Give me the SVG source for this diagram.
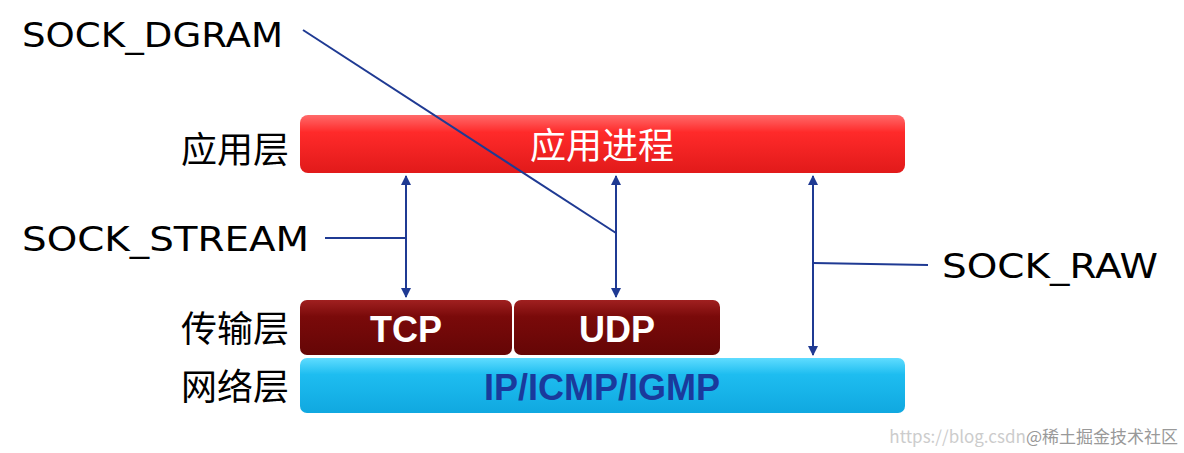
<svg xmlns="http://www.w3.org/2000/svg" width="1184" height="453" viewBox="0 0 1184 453">
<style>
.lbl{font-family:"DejaVu Sans",sans-serif;font-size:34px;fill:#000}
.cn{font-family:"Noto Sans CJK SC",sans-serif;font-size:36px;fill:#000}
.bx{font-family:"Liberation Sans",Arial,sans-serif;font-weight:bold;font-size:36px}
.ln{stroke:#1f3a93;stroke-width:2;fill:none}
</style>
<defs>
<linearGradient id="red" x1="0" y1="0" x2="0" y2="1"><stop offset="0" stop-color="#ff6a6a"/><stop offset="0.3" stop-color="#ff2a2a"/><stop offset="1" stop-color="#e11a1a"/></linearGradient>
<linearGradient id="dr" x1="0" y1="0" x2="0" y2="1"><stop offset="0" stop-color="#a02020"/><stop offset="0.3" stop-color="#7a0a0a"/><stop offset="1" stop-color="#650606"/></linearGradient>
<linearGradient id="bl" x1="0" y1="0" x2="0" y2="1"><stop offset="0" stop-color="#5fdcff"/><stop offset="0.3" stop-color="#1ebdf0"/><stop offset="1" stop-color="#10a8e0"/></linearGradient>
<marker id="ah" viewBox="0 0 10 10" refX="9" refY="5" markerWidth="5" markerHeight="5" orient="auto-start-reverse"><path d="M0,0L10,5L0,10z" fill="#1f3a93"/></marker>
</defs>
<g id="app"><rect x="300" y="115" width="605" height="58" rx="8" fill="url(#red)"/><text x="602" y="159" text-anchor="middle" class="cn" style="fill:#fff">应用进程</text></g>
<g id="tcp"><rect x="300" y="300" width="212" height="55" rx="7" fill="url(#dr)"/><text x="406" y="342" text-anchor="middle" class="bx" fill="#fff">TCP</text></g>
<g id="udp"><rect x="514" y="300" width="206" height="55" rx="7" fill="url(#dr)"/><text x="617" y="342" text-anchor="middle" class="bx" fill="#fff">UDP</text></g>
<g id="ip"><rect x="300" y="358" width="605" height="55" rx="7" fill="url(#bl)"/><text x="602" y="400" text-anchor="middle" class="bx" fill="#1a3a9c">IP/ICMP/IGMP</text></g>
<g id="labels">
<text x="22" y="47" class="lbl" textLength="261" lengthAdjust="spacingAndGlyphs">SOCK_DGRAM</text>
<text x="22" y="251" class="lbl" textLength="287" lengthAdjust="spacingAndGlyphs">SOCK_STREAM</text>
<text x="942" y="278" class="lbl" textLength="216" lengthAdjust="spacingAndGlyphs">SOCK_RAW</text>
<text x="289" y="163" text-anchor="end" class="cn">应用层</text>
<text x="289" y="342" text-anchor="end" class="cn">传输层</text>
<text x="289" y="400" text-anchor="end" class="cn">网络层</text>
<text x="1178" y="443" text-anchor="end" style="font-family:'Noto Sans CJK SC',sans-serif;font-size:17px;fill:#ccc">https://blog.csdn<tspan fill="#999">@稀土掘金技术社区</tspan></text>
</g>
<g id="connectors">
<line class="ln" x1="406" y1="176" x2="406" y2="297" marker-start="url(#ah)" marker-end="url(#ah)"/>
<line class="ln" x1="616" y1="176" x2="616" y2="297" marker-start="url(#ah)" marker-end="url(#ah)"/>
<line class="ln" x1="813" y1="176" x2="813" y2="355" marker-start="url(#ah)" marker-end="url(#ah)"/>
<line class="ln" x1="325" y1="238" x2="406" y2="238"/>
<line class="ln" x1="303" y1="30" x2="616" y2="233"/>
<line class="ln" x1="813" y1="263" x2="928" y2="265"/>
</g>
</svg>
